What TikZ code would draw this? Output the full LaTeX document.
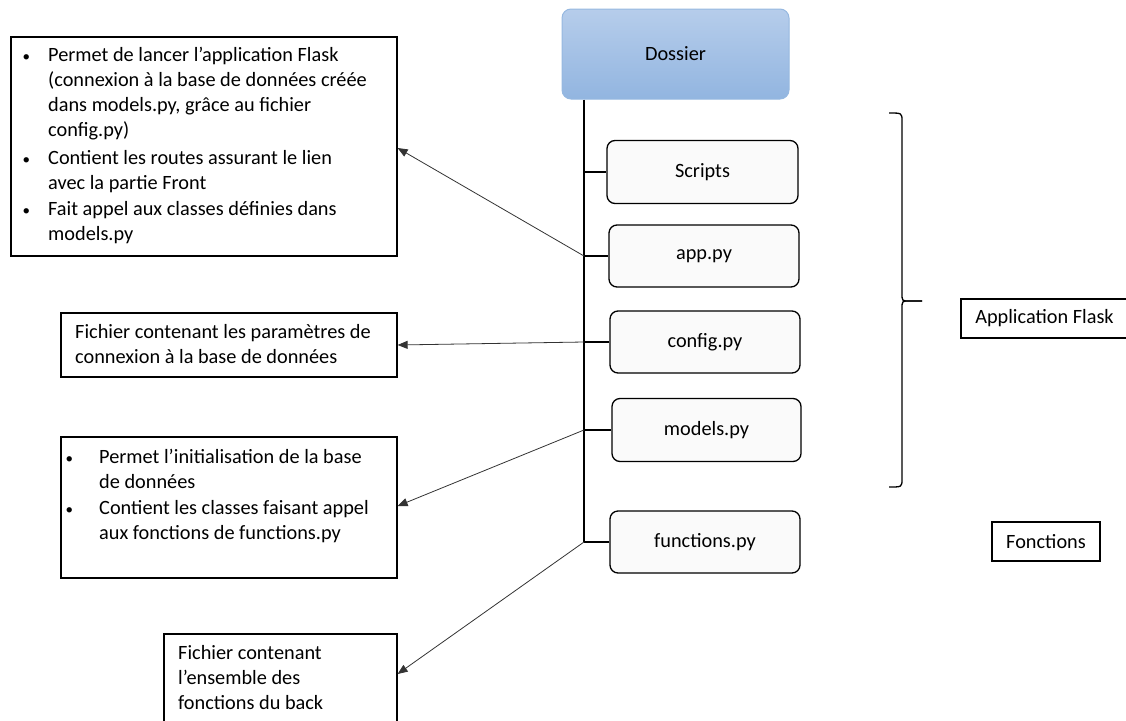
\documentclass[tikz,border=0pt]{standalone}
\usepackage{fontspec}
\setmainfont{Carlito}
\usetikzlibrary{arrows.meta}
\definecolor{dtop}{RGB}{182,205,235}
\definecolor{dbot}{RGB}{146,181,224}
\definecolor{dborder}{RGB}{150,184,224}
\newcommand{\bul}{{\fontsize{15}{15}\selectfont\textbullet}}
\begin{document}
\begin{tikzpicture}[x=1pt,y=-1pt,
  font=\fontsize{20.3}{25}\selectfont,
  dossierbox/.style={draw=dborder, line width=1pt, rounded corners=9pt, top color=dtop, bottom color=dbot, minimum width=227pt, minimum height=90pt, inner sep=0pt},
  filebox/.style={draw=black, line width=1.3pt, rounded corners=8pt, fill=black!2, minimum width=190pt, minimum height=62pt, inner sep=0pt},
  descbox/.style={draw=black, line width=1.2pt, inner sep=0pt},
  desctext/.style={anchor=base west, inner sep=0pt},
  tree/.style={draw=black, line width=1.5pt},
  arr/.style={draw=black!80, line width=0.8pt, -{Triangle[length=10pt,width=8pt]}},
  brace/.style={draw=black, line width=1.3pt}
]
\path[use as bounding box] (0,0) rectangle (1126,720);
\clip (0,0) rectangle (1126,720);

% folder and files
\node[dossierbox] (dossier) at (675.5,54) {Dossier};
\node[filebox, minimum width=191pt, minimum height=63pt] (scripts) at (702.5,172) {Scripts};
\node[filebox] (app) at (704,256) {app.py};
\node[filebox] (config) at (705,342) {config.py};
\node[filebox, minimum width=189pt, minimum height=63pt] (models) at (706.5,430) {models.py};
\node[filebox] (functions) at (705,542) {functions.py};

\coordinate (j1) at (584,172);
\coordinate (j2) at (584,256);
\coordinate (j3) at (584,342);
\coordinate (j4) at (584,430);
\coordinate (j5) at (584,542);

\draw[tree] (dossier.south -| j1) -- (j5);
\draw[tree] (j1) -- (scripts.west);
\draw[tree] (j2) -- (app.west);
\draw[tree] (j3) -- (config.west);
\draw[tree] (j4) -- (models.west);
\draw[tree] (j5) -- (functions.west);

% description boxes
\node[descbox, minimum width=386pt, minimum height=219pt] (d1) at (204,146.5) {};
\node[descbox, minimum width=336pt, minimum height=64pt] (d2) at (229,345) {};
\node[descbox, minimum width=336pt, minimum height=141pt] (d3) at (229,507.5) {};
\node[descbox, minimum width=233pt, minimum height=111pt] (d4) at (280.5,689.5) {};

\node[desctext] (t1) at (22.5,61) {\begin{tabular}[t]{@{}p{25.5pt}@{}l@{}}
\bul & Permet de lancer l’application Flask\\
 & (connexion à la base de données créée\\
 & dans models.py, grâce au fichier\\
 & config.py)\\[3pt]
\bul & Contient les routes assurant le lien\\
 & avec la partie Front\\[1pt]
\bul & Fait appel aux classes définies dans\\
 & models.py
\end{tabular}};

\node[desctext] (t2) at (75,338) {\begin{tabular}[t]{@{}l@{}}
Fichier contenant les paramètres de\\
connexion à la base de données
\end{tabular}};

\node[desctext] (t3) at (65.5,463) {\begin{tabular}[t]{@{}p{33.5pt}@{}l@{}}
\bul & Permet l’initialisation de la base\\
 & de données\\[1pt]
\bul & Contient les classes faisant appel\\
 & aux fonctions de functions.py
\end{tabular}};

\node[desctext] (t4) at (178,659) {\begin{tabular}[t]{@{}l@{}}
Fichier contenant\\
l’ensemble des\\
fonctions du back
\end{tabular}};

% arrows
\draw[arr] (j2) -- (d1.east |- 0,148);
\draw[arr] (j3) -- (d2.east |- 0,345);
\draw[arr] (j4) -- (d3.east |- 0,506);
\draw[arr] (j5) -- (d4.east |- 0,674);

% brace
\coordinate (btop) at (889,113);
\coordinate (btip) at (922,301);
\coordinate (bbot) at (889,487);
\draw[brace] (btop) .. controls (902,113) .. (902,121) -- (902,293)
  .. controls (902,301) .. (909,301) -- (btip);
\draw[brace] (btip) -- (909,301) .. controls (902,301) .. (902,309)
  -- (902,479) .. controls (902,487) .. (bbot);

% labels
\node[descbox, minimum width=167pt, minimum height=39pt] (flask) at (1044.5,318.5) {Application Flask};
\node[descbox, minimum width=108pt, minimum height=39pt] (fonctions) at (1046,541.5) {Fonctions};
\end{tikzpicture}
\end{document}
